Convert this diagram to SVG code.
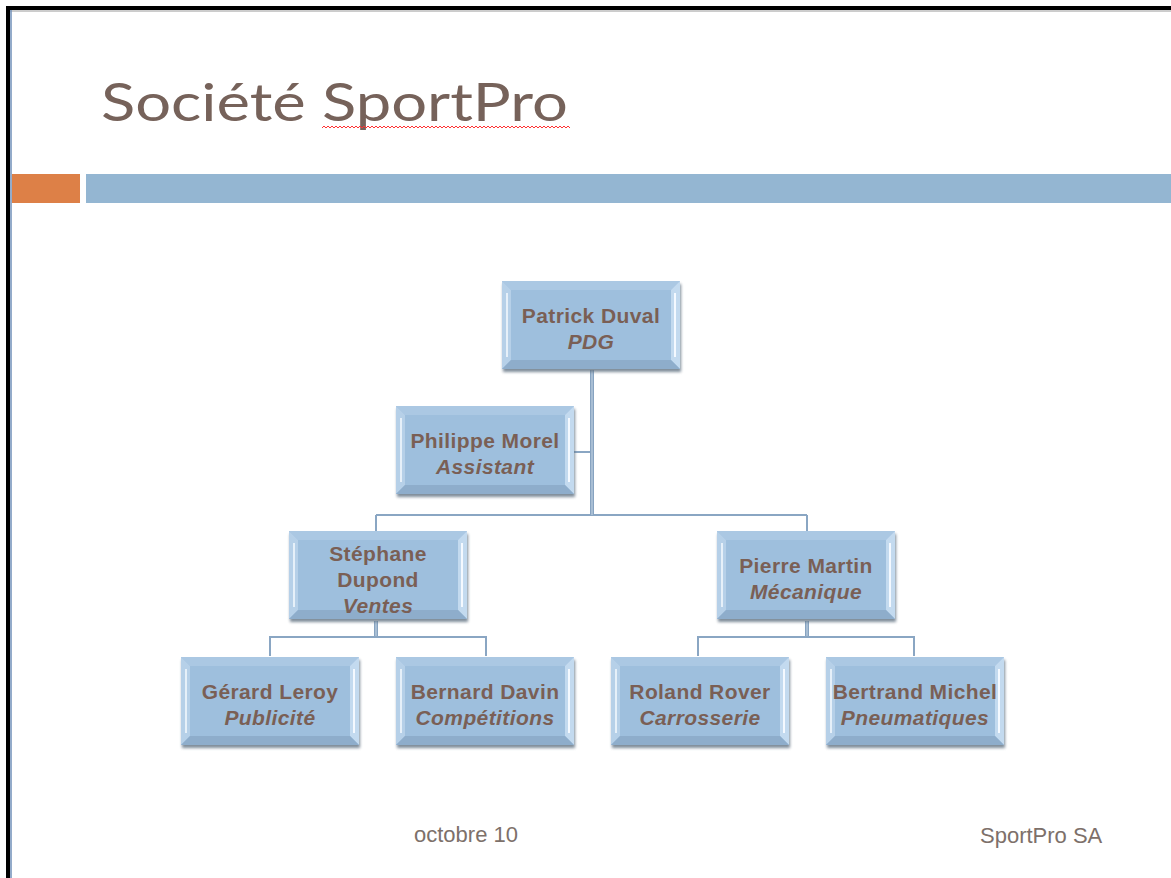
<svg xmlns="http://www.w3.org/2000/svg" xmlns:xlink="http://www.w3.org/1999/xlink" width="1171" height="878" viewBox="0 0 1171 878">
<style>
.name{font-family:"Liberation Sans",Arial,sans-serif;font-size:21px;font-weight:bold;fill:#7a5f55;text-anchor:middle;letter-spacing:0.4px}
.role{font-family:"Liberation Sans",Arial,sans-serif;font-size:21px;font-weight:bold;font-style:italic;fill:#7a5f55;text-anchor:middle;letter-spacing:0.4px}
.foot{font-family:"Liberation Sans",Arial,sans-serif;font-size:22px;fill:#7d706a}
.conn{fill:none;stroke:#8aa6c3;stroke-width:2}
.connv{fill:none;stroke:#87a3c0;stroke-width:4}
.connvi{fill:none;stroke:#c9d9e8;stroke-width:1}
</style>
<defs>
<filter id="sh" x="-10%" y="-10%" width="120%" height="130%">
<feGaussianBlur stdDeviation="1.5"/>
</filter>
<g id="box">
<rect x="1" y="3" width="178" height="88" fill="#5f6f80" opacity="0.8" filter="url(#sh)"/>
<rect x="0" y="0" width="178" height="88" fill="#9ebfdd"/>
<polygon points="0,0 178,0 169,9 9,9" fill="#abc8e3"/>
<polygon points="0,0 9,9 9,79 0,88" fill="#b6d0e8"/>
<polygon points="178,0 178,88 169,79 169,9" fill="#c3daef"/>
<polygon points="0,88 178,88 169,79 9,79" fill="#8eadcb"/>
<line x1="5" y1="12" x2="5" y2="76" stroke="#e6f0f9" stroke-width="2"/>
<line x1="173" y1="12" x2="173" y2="76" stroke="#f4f9ff" stroke-width="2"/>
</g>
</defs>
<rect x="0" y="0" width="1171" height="878" fill="#ffffff"/>
<rect x="6" y="6" width="1165" height="4" fill="#000000"/>
<rect x="6" y="6" width="4" height="872" fill="#000000"/>
<line x1="10" y1="11" x2="1171" y2="11" stroke="#9a9a9a" stroke-width="1"/>
<line x1="11" y1="10" x2="11" y2="878" stroke="#6f8fb8" stroke-width="1.5"/>

<g id="title">
<text x="101" y="121" font-family="Lato,'Open Sans',sans-serif" font-size="53" fill="#76625a" textLength="467" lengthAdjust="spacingAndGlyphs">Société SportPro</text>
<path d="M322,128 l2,-2 l2,2 l2,-2 l2,2 l2,-2 l2,2 l2,-2 l2,2 l2,-2 l2,2 l2,-2 l2,2 l2,-2 l2,2 l2,-2 l2,2 l2,-2 l2,2 l2,-2 l2,2 l2,-2 l2,2 l2,-2 l2,2 l2,-2 l2,2 l2,-2 l2,2 l2,-2 l2,2 l2,-2 l2,2 l2,-2 l2,2 l2,-2 l2,2 l2,-2 l2,2 l2,-2 l2,2 l2,-2 l2,2 l2,-2 l2,2 l2,-2 l2,2 l2,-2 l2,2 l2,-2 l2,2 l2,-2 l2,2 l2,-2 l2,2 l2,-2 l2,2 l2,-2 l2,2 l2,-2 l2,2 l2,-2 l2,2 l2,-2 l2,2 l2,-2 l2,2 l2,-2 l2,2 l2,-2 l2,2 l2,-2 l2,2 l2,-2 l2,2 l2,-2 l2,2 l2,-2 l2,2 l2,-2 l2,2 l2,-2 l2,2 l2,-2 l2,2 l2,-2 l2,2 l2,-2 l2,2 l2,-2 l2,2 l2,-2 l2,2 l2,-2 l2,2 l2,-2 l2,2 l2,-2 l2,2 l2,-2 l2,2 l2,-2 l2,2 l2,-2 l2,2 l2,-2 l2,2 l2,-2 l2,2 l2,-2 l2,2 l2,-2 l2,2 l2,-2 l2,2 l2,-2 l2,2 l2,-2 l2,2 l2,-2 l2,2 l2,-2 l2,2 l2,-2 l2,2" fill="none" stroke="#ff3030" stroke-width="1"/>
</g>

<g id="bars">
<rect x="12" y="174" width="68" height="29" fill="#dd8047"/>
<rect x="86" y="174" width="1085" height="29" fill="#94b6d2"/>
</g>

<g id="connectors">
<polyline class="conn" points="574,452 592,452"/>
<polyline class="conn" points="376,515 807,515"/>
<polyline class="connv" points="592,370 592,515"/>
<polyline class="connvi" points="592,370 592,515"/>
<polyline class="conn" points="376,515 376,531"/>
<polyline class="conn" points="807,515 807,531"/>
<polyline class="connv" points="376,621 376,637"/>
<polyline class="connvi" points="376,621 376,637"/>
<polyline class="conn" points="270,656 270,637 486,637 486,656"/>
<polyline class="connv" points="807,621 807,637"/>
<polyline class="connvi" points="807,621 807,637"/>
<polyline class="conn" points="698,656 698,637 914,637 914,656"/>
</g>

<g id="n-duval">
<use xlink:href="#box" href="#box" x="502" y="281"/>
<text class="name" x="591" y="323">Patrick Duval</text>
<text class="role" x="591" y="349">PDG</text>
</g>
<g id="n-morel">
<use xlink:href="#box" href="#box" x="396" y="406"/>
<text class="name" x="485" y="448">Philippe Morel</text>
<text class="role" x="485" y="474">Assistant</text>
</g>
<g id="n-dupond">
<use xlink:href="#box" href="#box" x="289" y="531"/>
<text class="name" x="378" y="561">Stéphane</text>
<text class="name" x="378" y="587">Dupond</text>
<text class="role" x="378" y="613">Ventes</text>
</g>
<g id="n-martin">
<use xlink:href="#box" href="#box" x="717" y="531"/>
<text class="name" x="806" y="573">Pierre Martin</text>
<text class="role" x="806" y="599">Mécanique</text>
</g>
<g id="n-leroy">
<use xlink:href="#box" href="#box" x="181" y="657"/>
<text class="name" x="270" y="699">Gérard Leroy</text>
<text class="role" x="270" y="725">Publicité</text>
</g>
<g id="n-davin">
<use xlink:href="#box" href="#box" x="396" y="657"/>
<text class="name" x="485" y="699">Bernard Davin</text>
<text class="role" x="485" y="725">Compétitions</text>
</g>
<g id="n-rover">
<use xlink:href="#box" href="#box" x="611" y="657"/>
<text class="name" x="700" y="699">Roland Rover</text>
<text class="role" x="700" y="725">Carrosserie</text>
</g>
<g id="n-michel">
<use xlink:href="#box" href="#box" x="826" y="657"/>
<text class="name" x="915" y="699">Bertrand Michel</text>
<text class="role" x="915" y="725">Pneumatiques</text>
</g>

<g id="footer">
<text class="foot" x="414" y="842">octobre 10</text>
<text class="foot" x="980" y="843">SportPro SA</text>
</g>
</svg>
